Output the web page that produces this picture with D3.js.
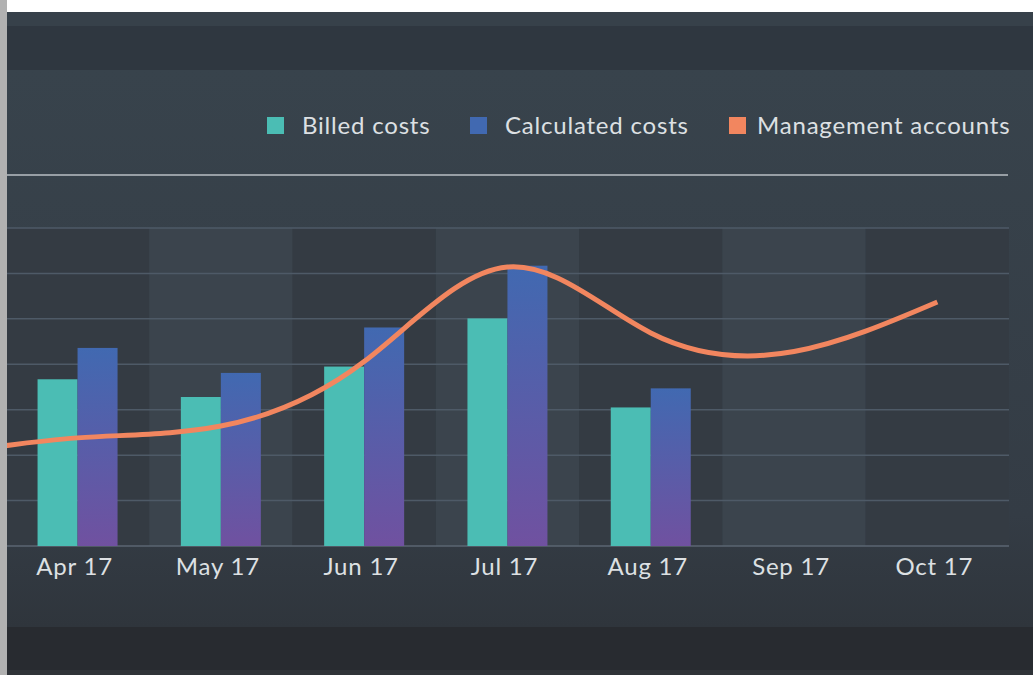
<!DOCTYPE html>
<html>
<head>
<meta charset="utf-8">
<script src="https://cdn.jsdelivr.net/npm/d3@7"></script>
<style>
  body { margin: 0; background: #fff; }
  svg { display: block; }
  text { font-family: Lato, 'Open Sans', sans-serif; }
</style>
</head>
<body>
<div class="chart"></div>
<script>
// data (y units arbitrary: one gridline = 10)
const months = ['Mar 17', 'Apr 17', 'May 17', 'Jun 17', 'Jul 17', 'Aug 17', 'Sep 17', 'Oct 17'];
const billed = [null, 36.7, 32.8, 39.5, 50.1, 30.5, null, null];
const calculated = [null, 43.6, 38.1, 48.1, 61.7, 34.7, null, null];
const management = [19.8, 23.8, 26.4, 40.6, 61.4, 46.9, 42.8, 53.7];
const yTicks = [0, 10, 20, 30, 40, 50, 60, 70];
const legendItems = ['Billed costs', 'Calculated costs', 'Management accounts'];

const colors = {
  billed: '#4bbdb4',
  calcTop: '#4169b1',
  calcBottom: '#7051a0',
  line: '#f2865f',
};

const W = 1033;
const H = 675;
const plot = { left: 6, right: 1009, top: 228, bottom: 546 };

const svg = d3.select('.chart')
  .append('svg')
  .attr('width', W)
  .attr('height', H);

const defs = svg.append('defs');
const grad = defs.append('linearGradient')
  .attr('id', 'calcGrad')
  .attr('x1', 0).attr('y1', 0).attr('x2', 0).attr('y2', 1);
grad.append('stop').attr('offset', '0%').attr('stop-color', colors.calcTop);
grad.append('stop').attr('offset', '100%').attr('stop-color', colors.calcBottom);

const panelGrad = defs.append('linearGradient')
  .attr('id', 'panelGrad')
  .attr('x1', 0).attr('y1', 0).attr('x2', 0).attr('y2', 1);
panelGrad.append('stop').attr('offset', '0%').attr('stop-color', '#38434c');
panelGrad.append('stop').attr('offset', '80%').attr('stop-color', '#343c45');
panelGrad.append('stop').attr('offset', '100%').attr('stop-color', '#2f353c');

defs.append('clipPath').attr('id', 'plotClip')
  .append('rect')
  .attr('x', plot.left).attr('y', 0)
  .attr('width', plot.right - plot.left).attr('height', H);

// page chrome
svg.append('rect').attr('x', 0).attr('y', 12).attr('width', W).attr('height', 14).attr('fill', '#37414a');
svg.append('rect').attr('x', 0).attr('y', 26).attr('width', W).attr('height', 44).attr('fill', '#2f3740');
svg.append('rect').attr('x', 0).attr('y', 70).attr('width', W).attr('height', 557).attr('fill', 'url(#panelGrad)');
svg.append('rect').attr('x', 0).attr('y', 627).attr('width', W).attr('height', 43).attr('fill', '#282b30');
svg.append('rect').attr('x', 0).attr('y', 670).attr('width', W).attr('height', 5).attr('fill', '#2f3338');

// legend
const legendX = [267, 470, 729];
const legendTextX = [302, 505, 757];
const legend = svg.append('g');
legendItems.forEach((name, i) => {
  legend.append('rect')
    .attr('x', legendX[i]).attr('y', 117)
    .attr('width', 17).attr('height', 17)
    .attr('fill', i === 0 ? colors.billed : (i === 1 ? colors.calcTop : colors.line));
  legend.append('text')
    .attr('x', legendTextX[i]).attr('y', 134)
    .attr('fill', '#dde0e3')
    .style('font-size', '24px')
    .style('letter-spacing', '0.8px')
    .text(name);
});

// separator under legend
svg.append('rect')
  .attr('x', 7).attr('y', 174)
  .attr('width', 1001).attr('height', 2)
  .attr('fill', '#989fa5');

// scales
const step = 143.3;
const x = d3.scaleBand()
  .domain(months)
  .range([plot.right - step * months.length, plot.right])
  .paddingInner(0)
  .paddingOuter(0);

const y = d3.scaleLinear()
  .domain([0, 70])
  .range([plot.bottom, plot.top]);

const g = svg.append('g').attr('clip-path', 'url(#plotClip)');

// alternating column bands
g.selectAll('.band')
  .data(months)
  .enter()
  .append('rect')
  .attr('class', 'band')
  .attr('x', (d) => x(d))
  .attr('y', plot.top)
  .attr('width', x.bandwidth())
  .attr('height', plot.bottom - plot.top)
  .attr('fill', (d, i) => (i % 2 === 0 ? '#3b444d' : '#343b43'));

// gridlines
g.selectAll('.grid')
  .data(yTicks)
  .enter()
  .append('line')
  .attr('x1', plot.left)
  .attr('x2', plot.right)
  .attr('y1', (d) => y(d))
  .attr('y2', (d) => y(d))
  .attr('stroke', (d) => (d === 0 ? '#5b6672' : '#4e5a67'))
  .attr('stroke-width', 1.5);

// bars
const barW = 40;
const rows = months.map((m, i) => ({
  m, billed: billed[i], calculated: calculated[i], management: management[i],
}));

g.selectAll('.billed')
  .data(rows.filter((d) => d.billed != null))
  .enter()
  .append('rect')
  .attr('x', (d) => x(d.m) + x.bandwidth() / 2 - barW)
  .attr('y', (d) => y(d.billed))
  .attr('width', barW)
  .attr('height', (d) => y(0) - y(d.billed))
  .attr('fill', colors.billed);

g.selectAll('.calc')
  .data(rows.filter((d) => d.calculated != null))
  .enter()
  .append('rect')
  .attr('x', (d) => x(d.m) + x.bandwidth() / 2)
  .attr('y', (d) => y(d.calculated))
  .attr('width', barW)
  .attr('height', (d) => y(0) - y(d.calculated))
  .attr('fill', 'url(#calcGrad)');

// management accounts line
const line = d3.line()
  .x((d) => x(d.m) + x.bandwidth() / 2)
  .y((d) => y(d.management))
  .curve(d3.curveNatural);

g.append('path')
  .datum(rows)
  .attr('d', line)
  .attr('fill', 'none')
  .attr('stroke', colors.line)
  .attr('stroke-width', 5);

// x axis labels
const xAxis = d3.axisBottom(x)
  .tickValues(months.slice(1))
  .tickSize(0)
  .tickPadding(0);

svg.append('g')
  .attr('transform', `translate(-3,${plot.bottom + 29})`)
  .call(xAxis)
  .call((sel) => sel.select('.domain').remove())
  .selectAll('text')
  .attr('dy', 0)
  .attr('fill', '#dde0e3')
  .style('font-family', 'Lato, sans-serif')
  .style('font-size', '24px')
  .style('letter-spacing', '0.8px');

// left grey strip and white top strip
svg.append('rect').attr('x', 0).attr('y', 0).attr('width', W).attr('height', 12).attr('fill', '#ffffff');
svg.append('rect').attr('x', 0).attr('y', 0).attr('width', 7).attr('height', H).attr('fill', '#b1b1b1');
</script>
</body>
</html>
